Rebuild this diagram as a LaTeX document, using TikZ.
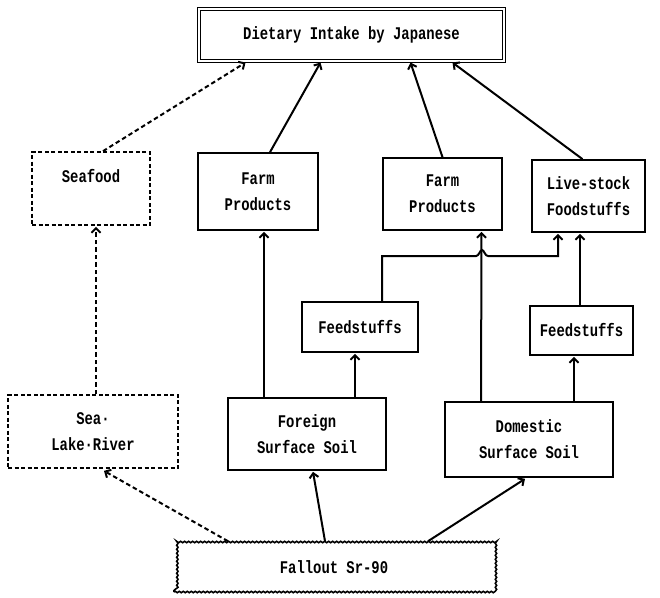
\documentclass[tikz,border=0pt]{standalone}
\usepackage{fontspec}
\setmainfont{Liberation Mono}[FakeStretch=0.78]
\usetikzlibrary{arrows.meta,calc,decorations.pathmorphing}
\begin{document}
\begin{tikzpicture}[x=1pt,y=-1pt,
  every node/.style={font=\bfseries\fontsize{17.8}{26}\selectfont, align=center, inner sep=0pt},
  solidbox/.style={draw, line width=1.7pt, rectangle},
  dashbox/.style={draw, line width=1.7pt, rectangle, dash pattern=on 4pt off 2.5pt},
  conn/.style={line width=2pt, -{Straight Barb[length=4.5pt,width=9pt,line width=2pt]}},
  dconn/.style={conn, dash pattern=on 4.5pt off 3pt},
]
\fill[white] (0,0) rectangle (660,597);
\useasboundingbox (0,0) rectangle (660,597);

\node[draw, line width=1.1pt, double=white, double distance=1.8pt, minimum width=305pt, minimum height=52pt] (top) at (351.5,35) {Dietary Intake by Japanese};

\node[dashbox, minimum width=118pt, minimum height=73pt] (seafood) at (91,188.5) {Seafood\\\mbox{}};
\node[solidbox, minimum width=120pt, minimum height=77pt] (farm1) at (258,191.5) {Farm\\Products};
\node[solidbox, minimum width=119pt, minimum height=72pt] (farm2) at (442.5,194) {Farm\\Products};
\node[solidbox, minimum width=113pt, minimum height=72pt] (live) at (588.5,196) {Live-stock\\Foodstuffs};

\node[solidbox, minimum width=116pt, minimum height=50pt] (feed1) at (360,327) {Feedstuffs};
\node[solidbox, minimum width=103pt, minimum height=49pt] (feed2) at (581.5,330.5) {Feedstuffs};

\node[dashbox, minimum width=170pt, minimum height=73pt] (sea) at (93,431.5) {Sea·\\Lake·River};
\node[solidbox, minimum width=158pt, minimum height=72pt] (foreign) at (307,434) {Foreign\\Surface Soil};
\node[solidbox, minimum width=168pt, minimum height=75pt] (domestic) at (529,439.5) {Domestic\\Surface Soil};

\node[draw, line width=1.6pt, decorate, decoration={snake, amplitude=0.7pt, segment length=4pt}, minimum width=320pt, minimum height=50pt] (fallout) at (334,567) {Fallout Sr-90};

% fallout connectors
\draw[dconn] ($(fallout.north)+(-106,0)$) -- ($(sea.south)+(11,2)$);
\draw[conn] ($(fallout.north)+(-9,0)$) -- ($(foreign.south)+(6,1)$);
\draw[conn] ($(fallout.north)+(94,0)$) -- ($(domestic.south)+(-4,1)$);

% sea to seafood to top
\draw[dconn] ($(sea.north)+(3,0)$) -- ($(seafood.south)+(5,1)$);
\draw[dconn] ($(seafood.north)+(12,0)$) -- ($(top.south)+(-106,1)$);

% foreign soil
\draw[conn] ($(foreign.north)+(-43,0)$) -- ($(farm1.south)+(6,1)$);
\draw[conn] ($(foreign.north)+(48,0)$) -- ($(feed1.south)+(-5,1)$);

% domestic soil
\draw[conn] ($(domestic.north)+(-48,0)$) -- ($(farm2.south)+(39,1)$);
\draw[conn] ($(domestic.north)+(45,0)$) -- ($(feed2.south)+(-7.5,1)$);
\draw[conn] ($(feed2.north)+(-1.5,0)$) -- ($(live.south)+(-8.5,1)$);

% feedstuffs 1 to livestock with hop
\coordinate (r1) at (382,256);
\coordinate (hl) at (476,256);
\coordinate (hm) at (482,250);
\coordinate (hr) at (488,256);
\coordinate (r2) at (558,256);
\draw[conn] ($(feed1.north)+(22,0)$) -- (r1) -- (hl) .. controls (479,256) and (480,250) .. (hm) .. controls (484,250) and (485,256) .. (hr) -- (r2) -- ($(live.south)+(-30.5,1)$);

% to top
\draw[conn] ($(farm1.north)+(12,0)$) -- ($(top.south)+(-31,1)$);
\draw[conn] ($(farm2.north)+(0,0)$) -- ($(top.south)+(59,1)$);
\draw[conn] ($(live.north)+(-6,0)$) -- ($(top.south)+(101,1)$);
\end{tikzpicture}
\end{document}
